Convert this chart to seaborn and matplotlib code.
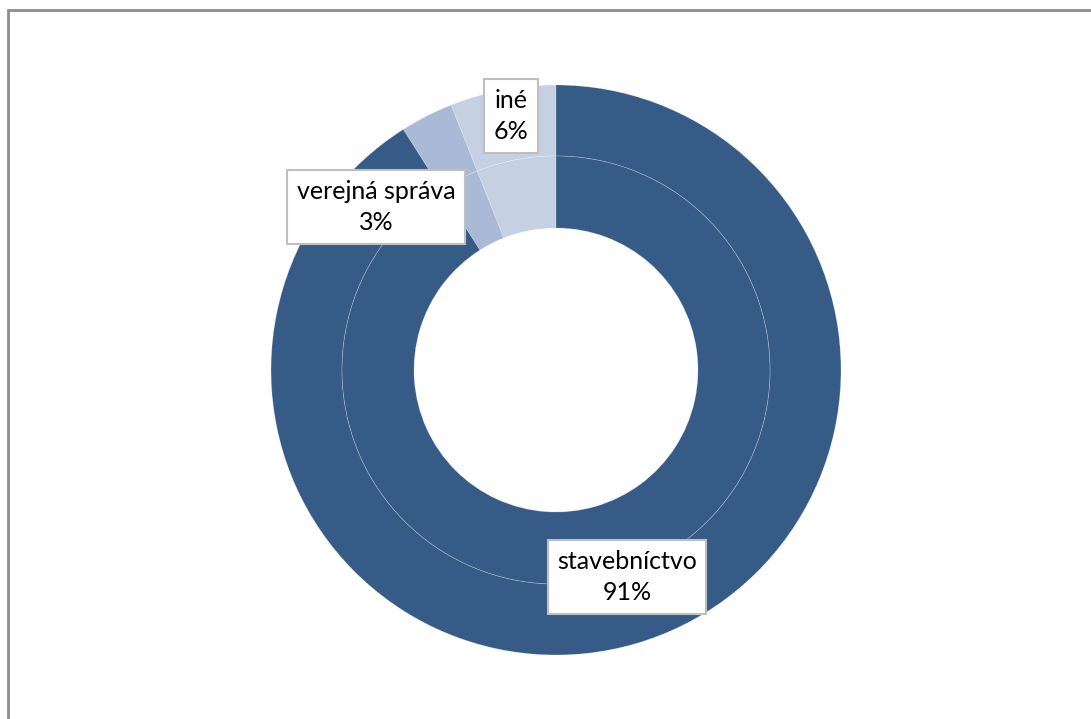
import matplotlib
matplotlib.use("Agg")
import matplotlib.pyplot as plt
import seaborn as sns
from matplotlib.patches import Rectangle

# Data
categories = ["iné", "verejná správa", "stavebníctvo"]
outer_values = [6, 3, 91]
inner_values = [6, 3, 91]
colors = ["#C5D0E3", "#A9B9D6", "#365B87"]

sns.set_theme(style="white")
plt.rcParams["font.family"] = ["Lato", "DejaVu Sans"]

W, H = 1091, 719
fig = plt.figure(figsize=(W / 100, H / 100), dpi=100)
ax = fig.add_axes([0, 0, 1, 1])

cx, cy = 556, H - 370
wp = dict(edgecolor=(1, 1, 1, 0.3), linewidth=0.5)

# outer ring
ax.pie(outer_values, colors=colors, startangle=90, counterclock=True,
       radius=285, center=(cx, cy), wedgeprops=dict(width=71, **wp),
       frame=True)
# inner ring
ax.pie(inner_values, colors=colors, startangle=90, counterclock=True,
       radius=214, center=(cx, cy), wedgeprops=dict(width=72, **wp),
       frame=True)
ax.set_xlim(0, W)
ax.set_ylim(0, H)
ax.set_aspect("equal")
ax.axis("off")

# labels
total = sum(outer_values)
label_pos = {"iné": (511, H - 116), "verejná správa": (376, H - 207),
             "stavebníctvo": (627, H - 577)}
for cat, val in zip(categories, outer_values):
    x, y = label_pos[cat]
    ax.text(x, y, f"{cat}\n{round(100 * val / total)}%", ha="center", va="center",
            fontsize=18, color="#000000", linespacing=1.45,
            bbox=dict(boxstyle="square,pad=0.38", facecolor="white",
                      edgecolor="#BFBFBF", linewidth=1.5))

# chart frame (only left and top edges visible)
fig.patches.append(Rectangle((8 / W, -0.5), 2, 1.5 - 10 / H, transform=fig.transFigure,
                             fill=False, edgecolor="#8C8C8C", linewidth=2))

fig.savefig("out.png", dpi=100)
